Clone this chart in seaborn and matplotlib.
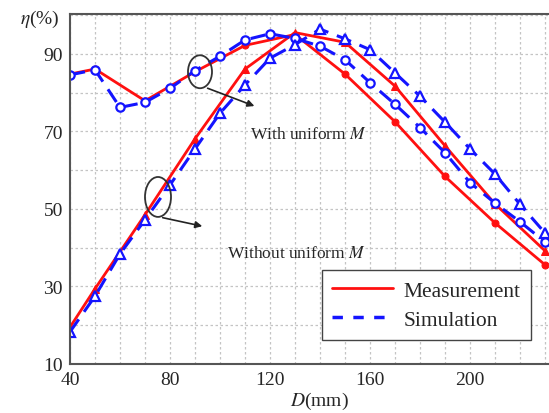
import matplotlib
matplotlib.use('Agg')
import matplotlib.pyplot as plt
import seaborn as sns
from matplotlib.patches import Ellipse
from matplotlib.lines import Line2D

# distances (mm) and efficiencies (%)
d_meas = [40, 50, 70, 90, 110, 130, 150, 170, 190, 210, 230]
eta_meas_with = [84.8, 86.1, 77.9, 85.4, 92.2, 95.0, 84.8, 72.5, 58.4, 46.4, 35.6]
eta_meas_without = [19.5, 29.4, 48.5, 68.1, 86.1, 95.5, 93.0, 81.7, 66.3, 51.3, 39.2]

d_sim = [40, 50, 60, 70, 80, 90, 100, 110, 120, 130,
         140, 150, 160, 170, 180, 190, 200, 210, 220, 230]
eta_sim_with = [84.6, 85.9, 76.2, 77.5, 81.1, 85.7, 89.4, 93.6, 95.2, 94.0,
                92.0, 88.5, 82.6, 77.0, 71.0, 64.5, 56.8, 51.5, 46.7, 41.5]
eta_sim_without = [18.3, 27.5, 38.4, 47.2, 56.2, 65.5, 74.7, 82.0, 88.9, 92.4,
                   96.4, 93.9, 91.1, 85.1, 79.1, 72.4, 65.5, 59.0, 51.2, 43.8]

legend_labels = ['Measurement', 'Simulation']

sns.set_style('white')
plt.rcParams['font.family'] = ['Liberation Serif', 'DejaVu Serif']
plt.rcParams['mathtext.fontset'] = 'stix'

fig = plt.figure(figsize=(5.49, 4.14), dpi=100)
ax = fig.add_axes([70 / 549, 1 - 365 / 414, 479 / 549, 350 / 414])

red = '#ff1010'
blue = '#1414ff'
dash = (0, (5, 3))

# measurement curves (red, solid)
sns.lineplot(x=d_meas, y=eta_meas_with, ax=ax, color=red, lw=2, marker='o',
             markersize=5, markerfacecolor=red, markeredgecolor=red,
             markevery=slice(1, None))
sns.lineplot(x=d_meas, y=eta_meas_without, ax=ax, color=red, lw=2, marker='^',
             markersize=6, markerfacecolor=red, markeredgecolor=red,
             markevery=slice(1, None))

# simulation curves (blue, dashed)
sns.lineplot(x=d_sim, y=eta_sim_with, ax=ax, color=blue, lw=2.2, linestyle=dash,
             marker='o', markersize=6, markerfacecolor='white',
             markeredgecolor=blue, markeredgewidth=1.6)
sns.lineplot(x=d_sim, y=eta_sim_without, ax=ax, color=blue, lw=2.2, linestyle=dash,
             marker='^', markersize=7, markerfacecolor='white',
             markeredgecolor=blue, markeredgewidth=1.6)

ax.set_xlim(40, 231.6)
ax.set_ylim(10, 100.3)
ax.set_xticks([40, 80, 120, 160, 200])
ax.set_yticks([10, 30, 50, 70, 90])
ax.set_xticks(range(40, 231, 10), minor=True)
ax.set_yticks(range(10, 101, 10), minor=True)
ax.grid(which='both', linestyle=(0, (2, 2)), color='#c4c4c4', lw=0.9)
ax.tick_params(which='both', length=0, labelsize=14, pad=5)
for s in ['left', 'bottom', 'top']:
    ax.spines[s].set_color('#555555')
    ax.spines[s].set_linewidth(1.5)
ax.spines['right'].set_visible(False)
ax.set_xlabel('')
ax.set_ylabel('')

# annotations
ax.add_patch(Ellipse((92, 85.4), 9.6, 8.5, fill=False, ec='#333333', lw=1.3, zorder=5))
ax.add_patch(Ellipse((75.2, 53.1), 10.4, 10.3, fill=False, ec='#333333', lw=1.3, zorder=5))
ax.annotate('', xy=(114.8, 76.3), xytext=(94, 81.4),
            arrowprops=dict(arrowstyle='-|>', color='#222222', lw=1.2))
ax.annotate('', xy=(94, 45.4), xytext=(76, 47.9),
            arrowprops=dict(arrowstyle='-|>', color='#222222', lw=1.2))
ax.text(135.2, 69.4, 'With uniform $M$', fontsize=12.5, ha='center', va='center')
ax.text(130.4, 38.6, 'Without uniform $M$', fontsize=12.5, ha='center', va='center')

handles = [Line2D([], [], color=red, lw=2),
           Line2D([], [], color=blue, lw=2.5, linestyle=(0, (3, 3)))]
leg = ax.legend(handles, legend_labels, loc='lower left', bbox_to_anchor=(0.503, 0.037),
                fontsize=15.5, frameon=True, fancybox=False, edgecolor='#444444',
                handlelength=2.8, handletextpad=0.5, borderpad=0.5, labelspacing=0.4)
leg.get_frame().set_linewidth(1.0)
leg.get_frame().set_alpha(1)

fig.text(40 / 549, 1 - 19 / 414, r'$\eta$(%)', fontsize=14, ha='center', va='center')
fig.text(319 / 549, 1 - 401 / 414, r'$D$(mm)', fontsize=14, ha='center', va='center')

fig.savefig('out.png', dpi=100)
